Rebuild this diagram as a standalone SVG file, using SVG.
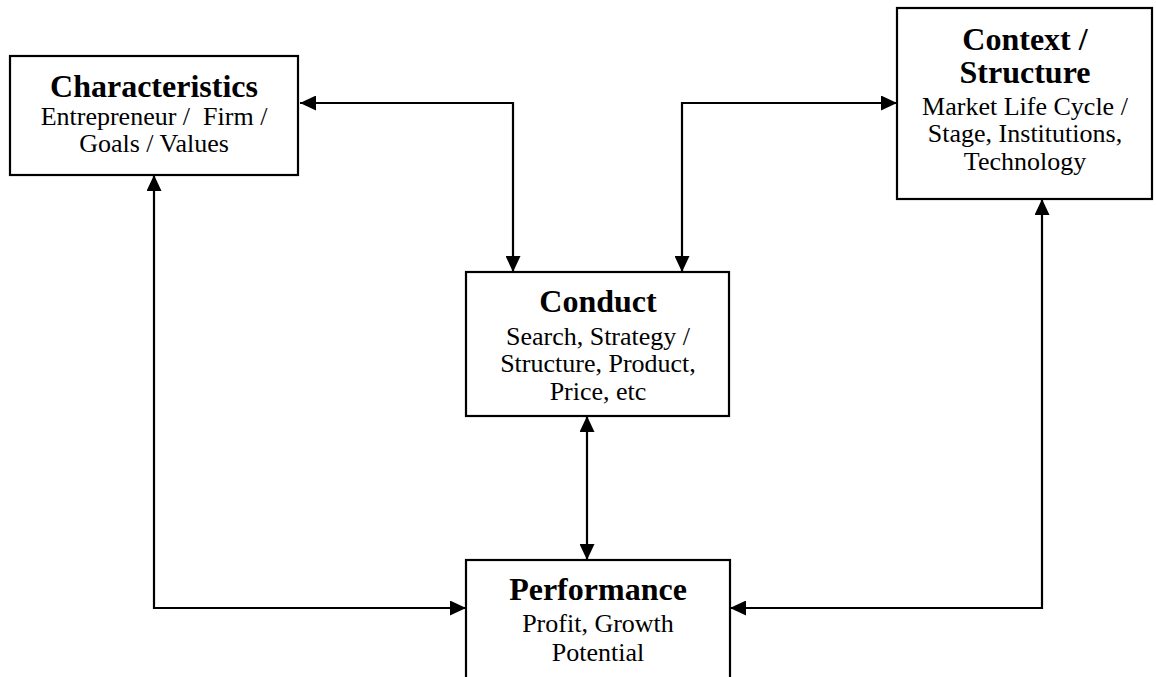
<svg xmlns="http://www.w3.org/2000/svg" width="1156" height="677" viewBox="0 0 1156 677">
<style>
.box{fill:#fff;stroke:#000;stroke-width:2.2}
.t{font-family:"Liberation Serif","Times New Roman",serif;text-anchor:middle;fill:#000}
.h{font-size:32px;font-weight:bold}
.b{font-size:26px}
.c{fill:none;stroke:#000;stroke-width:2.2}
</style>
<defs>
<marker id="ah" markerUnits="userSpaceOnUse" markerWidth="16" markerHeight="15" refX="16" refY="7.5" orient="auto-start-reverse" viewBox="0 0 16 15">
<path d="M0,0 L16,7.5 L0,15 z" fill="#000"/>
</marker>
</defs>
<rect width="1156" height="677" fill="#fff"/>
<g id="connectors">
<path class="c" d="M300,103 H513 V272" marker-start="url(#ah)" marker-end="url(#ah)"/>
<path class="c" d="M682,272 V103 H897" marker-start="url(#ah)" marker-end="url(#ah)"/>
<path class="c" d="M587,416 V560" marker-start="url(#ah)" marker-end="url(#ah)"/>
<path class="c" d="M154,175 V608 H466" marker-start="url(#ah)" marker-end="url(#ah)"/>
<path class="c" d="M1042,199 V608 H730" marker-start="url(#ah)" marker-end="url(#ah)"/>
</g>
<g id="characteristics">
<rect class="box" x="10" y="56" width="288" height="119"/>
<text class="t h" x="154" y="97">Characteristics</text>
<text class="t b" x="154" y="125" xml:space="preserve">Entrepreneur /  Firm /</text>
<text class="t b" x="154" y="152">Goals / Values</text>
</g>
<g id="context">
<rect class="box" x="897" y="8" width="255" height="191"/>
<text class="t h" x="1025" y="50">Context /</text>
<text class="t h" x="1025" y="83">Structure</text>
<text class="t b" x="1025" y="115">Market Life Cycle /</text>
<text class="t b" x="1025" y="142">Stage, Institutions,</text>
<text class="t b" x="1025" y="170">Technology</text>
</g>
<g id="conduct">
<rect class="box" x="466" y="272" width="263" height="144"/>
<text class="t h" x="598" y="312">Conduct</text>
<text class="t b" x="598" y="345">Search, Strategy /</text>
<text class="t b" x="598" y="372">Structure, Product,</text>
<text class="t b" x="598" y="400">Price, etc</text>
</g>
<g id="performance">
<rect class="box" x="466" y="560" width="264" height="140"/>
<text class="t h" x="598" y="600">Performance</text>
<text class="t b" x="598" y="632">Profit, Growth</text>
<text class="t b" x="598" y="661">Potential</text>
</g>
</svg>
